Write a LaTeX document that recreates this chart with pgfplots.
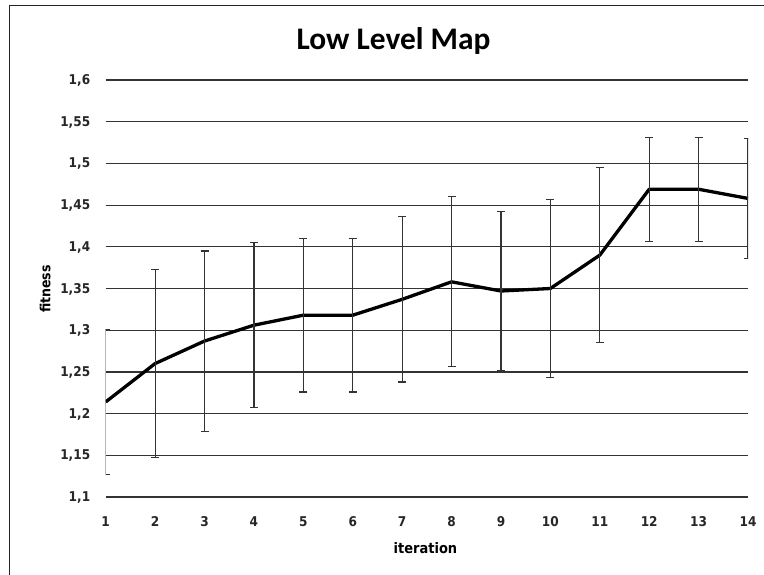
\documentclass[border=0pt]{standalone}
\usepackage{fontspec}
\setmainfont{Carlito}[Ligatures=NoCommon]
\newfontfamily\tickfont{DejaVu Sans Condensed}
\usepackage{pgfplots}
\pgfplotsset{compat=1.18}
\begin{document}
\begin{tikzpicture}
\useasboundingbox (-105.7bp,-78bp) rectangle (658.3bp,497bp);
\draw[black!85, line width=1.4bp] (-96bp,-80bp) -- (-96bp,491.5bp) -- (660bp,491.5bp);
\begin{axis}[
  at={(0,0)}, anchor=south west,
  scale only axis, width=642.3bp, height=417bp,
  xmin=1, xmax=14, ymin=1.1, ymax=1.6,
  xtick={1,2,3,4,5,6,7,8,9,10,11,12,13,14},
  ytick={1.1,1.15,1.2,1.25,1.3,1.35,1.4,1.45,1.5,1.55,1.6},
  ymajorgrids,
  grid style={black!80, line width=1.2bp},
  axis line style={draw=none},
  major tick length=0pt,
  /pgf/number format/assume math mode=true,
  /pgf/number format/fixed,
  /pgf/number format/precision=2,
  /pgf/number format/use comma,
  tick label style={font=\tickfont\bfseries\fontsize{13.5}{15}\selectfont, black!85},
  yticklabel style={anchor=east, xshift=-12bp, yshift=-0.5bp},
  xticklabel style={anchor=base, yshift=-29.5bp},
]
\addplot[black, line width=3.3bp, line join=round,
  error bars/.cd, y dir=both, y explicit,
  error bar style={black!80, line width=1.2bp},
  error mark options={black!80, rotate=90, mark size=4bp, line width=1.2bp}]
  table[x=x, y=y, y error=e] {
x y e
1 1.214 0.087
2 1.260 0.113
3 1.287 0.108
4 1.306 0.099
5 1.318 0.092
6 1.318 0.092
7 1.337 0.099
8 1.358 0.102
9 1.347 0.095
10 1.350 0.107
11 1.390 0.105
12 1.469 0.0625
13 1.469 0.0625
14 1.458 0.072
};
\end{axis}
\node[anchor=base, font=\bfseries\fontsize{31.5}{34}\selectfont] at (287.8bp,447.7bp) {Low Level Map};
\node[anchor=base, font=\tickfont\bfseries\fontsize{14.5}{16}\selectfont] at (319.8bp,-56bp) {iteration};
\node[anchor=base, rotate=90, font=\tickfont\bfseries\fontsize{14}{16}\selectfont] at (-55.2bp,289bp-81bp) {fitness};
\end{tikzpicture}
\end{document}
